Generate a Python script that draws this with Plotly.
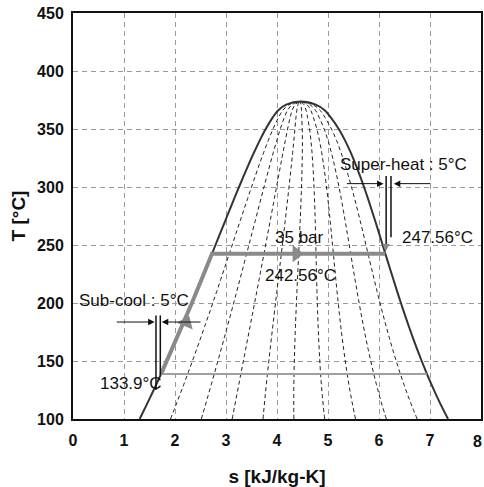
import plotly.graph_objects as go

# Saturation dome of water: temperature [°C] with liquid / vapour entropy [kJ/kg-K]
sat_T = [100, 110, 120, 130, 140, 150, 160, 170, 180, 190, 200, 210, 220, 230,
         240, 250, 260, 270, 280, 290, 300, 310, 320, 330, 340, 350, 360, 366,
         371]
sat_sf = [1.307, 1.419, 1.528, 1.635, 1.739, 1.842, 1.943, 2.042, 2.139, 2.236,
          2.331, 2.425, 2.518, 2.610, 2.702, 2.794, 2.885, 2.977, 3.069, 3.161,
          3.255, 3.351, 3.449, 3.552, 3.660, 3.778, 3.917, 4.020, 4.180]
sat_sg = [7.354, 7.238, 7.129, 7.026, 6.929, 6.837, 6.749, 6.665, 6.584, 6.506,
          6.430, 6.356, 6.284, 6.213, 6.142, 6.072, 6.002, 5.931, 5.858, 5.784,
          5.706, 5.624, 5.537, 5.442, 5.336, 5.211, 5.054, 4.940, 4.760]
crit_s, crit_T = 4.46, 373.8

# Constant-quality lines drawn inside the dome
qualities = [0.1, 0.2, 0.3, 0.4, 0.5, 0.6, 0.7, 0.8, 0.9]

# Cycle path: pump/heating along liquid line, then evaporation at 35 bar
path_s = [1.728, 1.943, 2.139, 2.331, 2.518, 2.725, 6.124]
path_T = [138.9, 160, 180, 200, 220, 242.56, 242.56]
# Condensing line
cond_s = [1.728, 6.940]
cond_T = [138.9, 138.9]

# Flow-direction markers
arrow_s = [4.38, 2.22]
arrow_T = [242.56, 183.0]
arrow_symbol = ["triangle-right", "triangle-up"]
arrow_angle = [0, 23]

# Sub-cool / super-heat bracket lines (s, T_top, T_bottom)
bracket_lines = [
    (1.627, 189.3, 124.9),
    (1.712, 189.3, 137.8),
    (6.140, 309.5, 250.0),
    (6.235, 309.5, 256.6),
]
# Pointer arrows (tail s, head s, T)
pointers = [
    (0.83, 1.60, 183.6),
    (2.53, 1.74, 183.6),
    (5.34, 6.09, 302.9),
    (7.04, 6.29, 302.9),
]

# Text labels (text, s, T)
labels = [
    ("Super-heat : 5°C", 6.48, 319.5),
    ("247.56°C", 7.15, 256.6),
    ("35 bar", 4.44, 256.6),
    ("242.56°C", 4.47, 223.7),
    ("Sub-cool : 5°C", 1.19, 202.2),
    ("133.9°C", 1.14, 130.6),
]

# Axis limits; the last x tick label sits at the page edge
s_max = 8

FONT = "Arial, Liberation Sans, sans-serif"
TICKFONT = dict(family=FONT, size=16, color="#111111", weight="bold")

fig = go.Figure()

# quality lines
for q in qualities:
    qs = [sf + q * (sg - sf) for sf, sg in zip(sat_sf, sat_sg)] + [crit_s]
    qt = sat_T + [crit_T]
    fig.add_trace(go.Scatter(x=qs, y=qt, mode="lines",
                             line=dict(color="#222222", width=1, dash="4px,3px", shape="spline"),
                             hoverinfo="skip", showlegend=False))

# dome outline
dome_s = sat_sf + [crit_s] + sat_sg[::-1]
dome_T = sat_T + [crit_T] + sat_T[::-1]
fig.add_trace(go.Scatter(x=dome_s, y=dome_T, mode="lines",
                         line=dict(color="#333333", width=2, shape="spline", smoothing=1.0),
                         hoverinfo="skip", showlegend=False))

# condensing line
fig.add_trace(go.Scatter(x=cond_s, y=cond_T, mode="lines",
                         line=dict(color="#a0a0a0", width=2),
                         hoverinfo="skip", showlegend=False))

# heating / evaporation path
fig.add_trace(go.Scatter(x=path_s, y=path_T, mode="lines",
                         line=dict(color="#8a8a8a", width=4),
                         hoverinfo="skip", showlegend=False))

# direction markers
fig.add_trace(go.Scatter(x=arrow_s, y=arrow_T, mode="markers",
                         marker=dict(symbol=arrow_symbol, angle=arrow_angle, size=15,
                                     color="#8a8a8a", line=dict(width=0)),
                         hoverinfo="skip", showlegend=False))

# bracket lines
for s, t1, t2 in bracket_lines:
    fig.add_trace(go.Scatter(x=[s, s], y=[t1, t2], mode="lines",
                             line=dict(color="#111111", width=1.5),
                             hoverinfo="skip", showlegend=False))

# small pointer onto the saturated-vapour point
fig.add_annotation(x=6.13, y=244.5, ax=6.14, ay=252, xref="x", yref="y",
                   axref="x", ayref="y", showarrow=True, arrowhead=2,
                   arrowsize=1, arrowwidth=1.5, arrowcolor="#8a8a8a", text="")

for s0, s1, t in pointers:
    fig.add_annotation(x=s1, y=t, ax=s0, ay=t, xref="x", yref="y",
                       axref="x", ayref="y", showarrow=True, arrowhead=2,
                       arrowsize=1.3, arrowwidth=1, arrowcolor="#111111", text="")

for txt, s, t in labels:
    fig.add_annotation(x=s, y=t, text=txt, showarrow=False, xref="x", yref="y",
                       font=dict(family=FONT, size=17, color="#111111"))

# last tick label, kept inside the page at the right edge
fig.add_annotation(x=s_max, y=0, xref="x", yref="paper", text=str(s_max),
                   showarrow=False, xanchor="right", yanchor="middle",
                   xshift=3, yshift=-22, font=TICKFONT)

axis_common = dict(
    showline=True, linecolor="#111111", linewidth=2, mirror=True,
    showgrid=True, gridcolor="#9a9a9a", gridwidth=1, griddash="5px,4px",
    zeroline=False, ticks="", automargin=False,
    tickfont=TICKFONT,
)

fig.update_xaxes(range=[0, s_max], dtick=1, ticklabelstandoff=6, **axis_common,
                 title=dict(text="s [kJ/kg-K]", standoff=24,
                            font=dict(family=FONT, size=19, color="#111111", weight="bold")))
fig.update_yaxes(range=[100, 450], dtick=50, ticklabelstandoff=4, **axis_common,
                 title=dict(text="T [°C]", standoff=6,
                            font=dict(family=FONT, size=19, color="#111111", weight="bold")))

fig.update_layout(
    width=484, height=487,
    margin=dict(l=73, r=3, t=13, b=68),
    plot_bgcolor="white", paper_bgcolor="white",
    font=dict(family=FONT),
)

fig.write_html("out.html")
